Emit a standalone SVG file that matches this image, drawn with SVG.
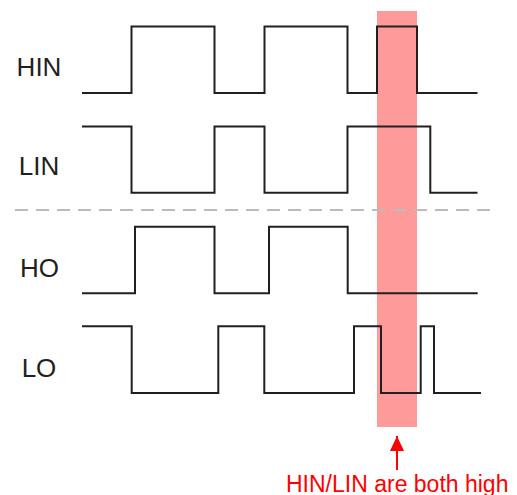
<svg xmlns="http://www.w3.org/2000/svg" width="517" height="495" viewBox="0 0 517 495">
<style>
.w{fill:none;stroke:#231f20;stroke-width:2;stroke-linejoin:miter;stroke-linecap:butt}
.lbl{font-family:"Liberation Sans",Arial,sans-serif;font-size:26px;fill:#231f20;text-anchor:middle}
.note{font-family:"Liberation Sans",Arial,sans-serif;font-size:23px;fill:#ff0000}
</style>
<defs>
<marker id="ah" markerWidth="15" markerHeight="14" refX="15" refY="7" orient="auto" markerUnits="userSpaceOnUse" viewBox="0 0 15 14">
<path d="M0,0 L15,7 L0,14 Z" fill="#ff0000"/>
</marker>
</defs>
<rect id="highlight" x="377" y="11" width="40" height="416" fill="#ff9a9a"/>
<line id="divider" x1="15" y1="210" x2="492" y2="210" stroke="#bbbbbb" stroke-width="2" stroke-dasharray="13 8"/>
<g id="HIN">
<text class="lbl" x="39" y="76">HIN</text>
<path class="w" d="M82,93 H131.5 V26.5 H214.5 V93 H264.5 V26.5 H347.5 V93 H377 V26.5 H417 V93 H477.5"/>
</g>
<g id="LIN">
<text class="lbl" x="39" y="175">LIN</text>
<path class="w" d="M82,126.5 H131.5 V192.7 H214.5 V126.5 H264.5 V192.7 H347.5 V126.5 H430.3 V192.7 H477.5"/>
</g>
<g id="HO">
<text class="lbl" x="39.5" y="277">HO</text>
<path class="w" d="M82,293.3 H135 V226.7 H214.5 V293.3 H269 V226.7 H347.7 V293.3 H477.7"/>
</g>
<g id="LO">
<text class="lbl" x="39" y="376.5">LO</text>
<path class="w" d="M82,326.3 H131.7 V393 H218.3 V326.3 H264.3 V393 H354 V326.3 H381 V393 H420.7 V326.3 H434 V393 H481"/>
</g>
<g id="connectors">
<line x1="397" y1="470" x2="397" y2="436" stroke="#ff0000" stroke-width="2" marker-end="url(#ah)"/>
</g>
<g id="note">
<text class="note" x="286" y="491.5">HIN/LIN are both high</text>
</g>
</svg>
